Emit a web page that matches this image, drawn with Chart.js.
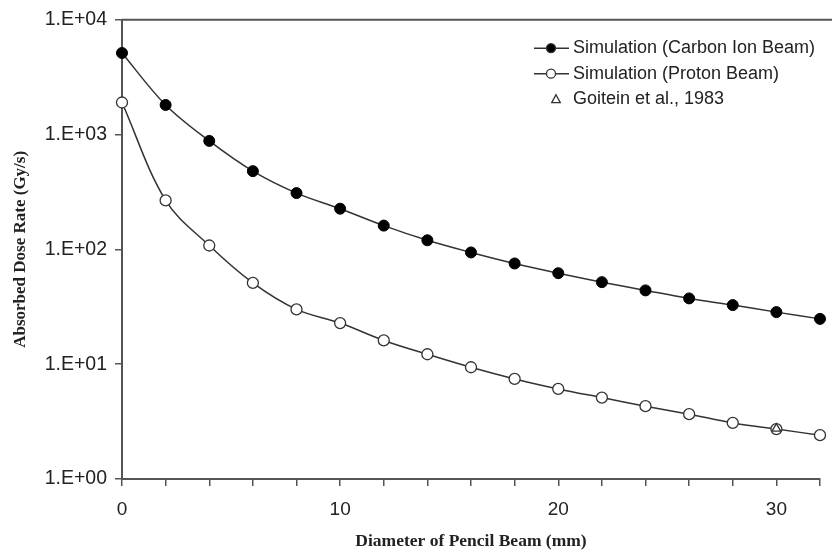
<!DOCTYPE html>
<html><head><meta charset="utf-8">
<script src="https://cdn.jsdelivr.net/npm/chart.js@4/dist/chart.umd.min.js"></script>
<style>html,body{margin:0;padding:0;background:#fff;}</style>
</head><body>
<canvas id="c" width="832" height="552"></canvas>
<script>
const diameters = [0,2,4,6,8,10,12,14,16,18,20,22,24,26,28,30,32];
const carbonDose = [5130,1810,880,480,309,226,161,120,94,75.3,62,51.8,43.9,37.4,32.7,28.4,24.8];
const protonDose = [1900,267,108,51,30,22.8,16.1,12.2,9.4,7.44,6.09,5.12,4.31,3.67,3.08,2.72,2.41];
const goiteinDiameter = [30];
const goiteinDose = [2.75];
const seriesLabels = ['Simulation (Carbon Ion Beam)','Simulation (Proton Beam)','Goitein et al., 1983'];
const yTickValues = [1,10,100,1000,10000];
const yTickLabels = ['1.E+00','1.E+01','1.E+02','1.E+03','1.E+04'];
const xLabeledTicks = [0,10,20,30];

const ink = '#333333';
const axisColor = '#555555';

const pts = (xs, ys) => xs.map((x,i)=>({x, y: ys[i]}));

const topBorder = {
  id: 'topBorder',
  beforeDatasetsDraw(chart){
    const {ctx, chartArea} = chart;
    ctx.save();
    ctx.strokeStyle = axisColor;
    ctx.lineWidth = 2;
    ctx.beginPath();
    ctx.moveTo(chartArea.left, chartArea.top);
    ctx.lineTo(chart.width, chartArea.top);
    ctx.stroke();
    ctx.restore();
  }
};

const customLegend = {
  id: 'customLegend',
  afterDraw(chart){
    const {ctx, chartArea} = chart;
    const textX = chartArea.right - 247;
    ctx.save();
    ctx.font = '18px "Liberation Sans", Arial, sans-serif';
    ctx.textBaseline = 'middle';
    chart.data.datasets.forEach((ds, i) => {
      const y = chartArea.top + 28.5 + i*25.5;
      const cx = textX - 22;
      ctx.lineWidth = 1.3;
      ctx.strokeStyle = ink;
      if (ds.showLine !== false) {
        ctx.lineWidth = 1.5;
        ctx.beginPath(); ctx.moveTo(textX - 39, y); ctx.lineTo(textX - 4, y); ctx.stroke();
        ctx.lineWidth = 1.3;
        ctx.fillStyle = ds.pointBackgroundColor;
        ctx.beginPath(); ctx.arc(cx, y, 4.5, 0, Math.PI*2); ctx.fill(); ctx.stroke();
      } else {
        const tx = textX - 17, r = 4.5;
        ctx.fillStyle = '#fff';
        ctx.beginPath();
        ctx.moveTo(tx, y - r);
        ctx.lineTo(tx + r*0.95, y + r*0.75);
        ctx.lineTo(tx - r*0.95, y + r*0.75);
        ctx.closePath(); ctx.fill(); ctx.stroke();
      }
      ctx.fillStyle = '#222';
      ctx.fillText(ds.label, textX, y);
    });
    ctx.restore();
  }
};

new Chart(document.getElementById('c'), {
  type: 'scatter',
  data: {
    datasets: [
      {
        label: seriesLabels[0],
        data: pts(diameters, carbonDose),
        showLine: true, clip: false, order: 1,
        borderColor: ink, borderWidth: 1.5,
        tension: 0.35,
        pointStyle: 'circle', pointRadius: 5.5,
        pointBackgroundColor: '#000', pointBorderColor: '#000', pointBorderWidth: 1
      },
      {
        label: seriesLabels[1],
        data: pts(diameters, protonDose),
        showLine: true, clip: false, order: 1,
        borderColor: ink, borderWidth: 1.5,
        tension: 0.35,
        pointStyle: 'circle', pointRadius: 5.5,
        pointBackgroundColor: '#fff', pointBorderColor: ink, pointBorderWidth: 1.3
      },
      {
        label: seriesLabels[2],
        data: pts(goiteinDiameter, goiteinDose),
        showLine: false, clip: false, order: 0,
        pointStyle: 'triangle', pointRadius: 5,
        pointBackgroundColor: 'rgba(255,255,255,0)', pointBorderColor: ink, pointBorderWidth: 1.3
      }
    ]
  },
  options: {
    responsive: false,
    animation: false,
    devicePixelRatio: 1,
    layout: { padding: { top: 19, right: 7, left: 0, bottom: 0 } },
    plugins: { legend: { display: false }, tooltip: { enabled: false } },
    scales: {
      x: {
        type: 'linear', min: 0, max: 32,
        afterFit(s){ s.height = 73; },
        afterBuildTicks(s){ s.ticks = diameters.map(v => ({value: v})); },
        ticks: {
          autoSkip: false, maxRotation: 0, padding: 12,
          color: '#222',
          font: { family: '"Liberation Sans", Arial, sans-serif', size: 19 },
          callback: v => xLabeledTicks.includes(v) ? String(v) : ''
        },
        grid: { drawOnChartArea: false, drawTicks: true, tickLength: 7, color: axisColor, lineWidth: 1.5 },
        border: { color: axisColor, width: 2 },
        title: {
          display: true, text: 'Diameter of Pencil Beam (mm)', color: '#222',
          font: { family: '"Liberation Serif", "Times New Roman", serif', size: 17.5, weight: 'bold' },
          padding: { top: 0, bottom: 0 }
        }
      },
      y: {
        type: 'logarithmic', min: 1, max: 10000,
        afterFit(s){ s.width = 122; },
        afterBuildTicks(s){ s.ticks = yTickValues.map(v => ({value: v, major: true})); },
        ticks: {
          autoSkip: false, padding: 8, color: '#222',
          font: { family: '"Liberation Sans", Arial, sans-serif', size: 19.5 },
          callback: v => { const i = yTickValues.indexOf(v); return i >= 0 ? yTickLabels[i] : ''; }
        },
        grid: { drawOnChartArea: false, drawTicks: true, tickLength: 7, color: axisColor, lineWidth: 1.5 },
        border: { color: axisColor, width: 2 },
        title: {
          display: true, text: 'Absorbed Dose Rate (Gy/s)', color: '#222',
          font: { family: '"Liberation Serif", "Times New Roman", serif', size: 17, weight: 'bold' },
          padding: { top: 10, bottom: 0 }
        }
      }
    }
  },
  plugins: [topBorder, customLegend]
});
</script>
</body></html>
